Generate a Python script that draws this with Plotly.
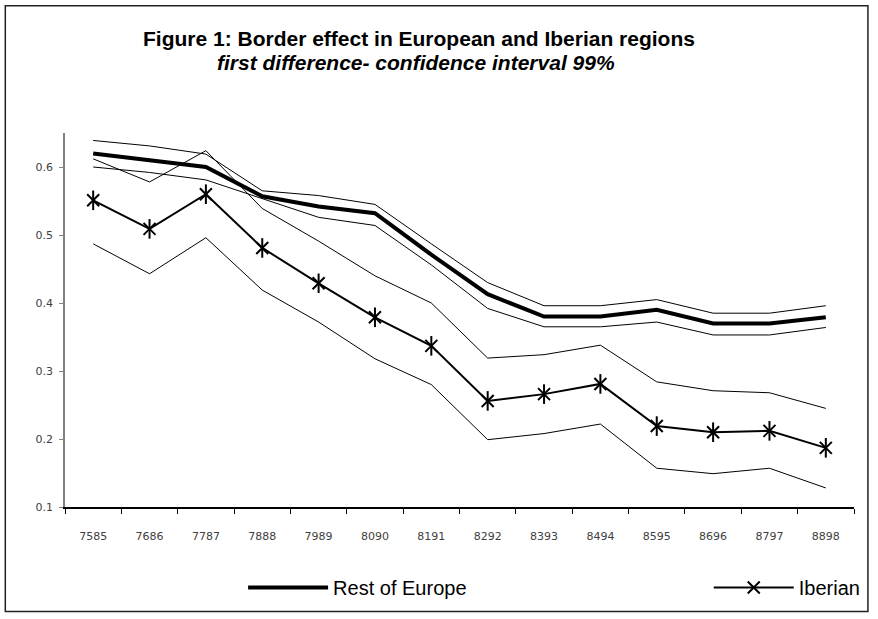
import plotly.graph_objects as go

years = ["7585", "7686", "7787", "7888", "7989", "8090", "8191",
         "8292", "8393", "8494", "8595", "8696", "8797", "8898"]

europe = [0.62, 0.61, 0.60, 0.557, 0.542, 0.532, 0.471, 0.413, 0.38, 0.38, 0.39, 0.37, 0.37, 0.379]
europe_hi = [0.639, 0.631, 0.619, 0.565, 0.558, 0.545, 0.487, 0.43, 0.396, 0.396, 0.405, 0.385, 0.385, 0.396]
europe_lo = [0.600, 0.592, 0.581, 0.553, 0.526, 0.514, 0.456, 0.392, 0.365, 0.365, 0.372, 0.353, 0.353, 0.364]

iberian = [0.551, 0.509, 0.560, 0.481, 0.429, 0.379, 0.337, 0.256, 0.266, 0.281, 0.219, 0.210, 0.212, 0.187]
iberian_hi = [0.612, 0.578, 0.624, 0.539, 0.491, 0.440, 0.400, 0.319, 0.324, 0.338, 0.284, 0.271, 0.268, 0.245]
iberian_lo = [0.487, 0.443, 0.496, 0.419, 0.372, 0.318, 0.280, 0.199, 0.208, 0.222, 0.157, 0.149, 0.157, 0.128]

yticks = [0.1, 0.2, 0.3, 0.4, 0.5, 0.6]

fig = go.Figure()

thin = dict(color="black", width=1)
for arr in (europe_hi, europe_lo, iberian_hi, iberian_lo):
    fig.add_trace(go.Scatter(x=years, y=arr, mode="lines", line=thin,
                             showlegend=False, hoverinfo="skip"))

fig.add_trace(go.Scatter(x=years, y=europe, mode="lines", name="Rest of Europe",
                         line=dict(color="black", width=4), legend="legend"))

fig.add_trace(go.Scatter(x=years, y=iberian, mode="lines+markers", name="Iberian",
                         line=dict(color="black", width=2),
                         marker=dict(symbol="x-thin-open", size=12, color="black",
                                     line=dict(color="black", width=2)),
                         legend="legend2"))
fig.add_trace(go.Scatter(x=years, y=iberian, mode="markers", showlegend=False,
                         marker=dict(symbol="line-ns-open", size=14, color="black",
                                     line=dict(color="black", width=2)),
                         hoverinfo="skip"))

L, R, T, B = 65, 20, 133, 110
W, H = 878, 619
pw, ph = W - L - R, H - T - B


def px(x):
    return (x - L) / pw


def py(y):
    return (H - B - y) / ph


tickfont = dict(family="DejaVu Sans", size=11, color="#404040")

fig.update_layout(
    width=W, height=H,
    margin=dict(l=L, r=R, t=T, b=B),
    paper_bgcolor="white", plot_bgcolor="white",
    font=dict(family="Liberation Sans, Arial", color="black"),
    xaxis=dict(type="category", range=[-0.5, 13.5], showgrid=False,
               showline=True, linecolor="black", linewidth=1.5,
               ticks="outside", tickson="boundaries", ticklen=5,
               tickcolor="black", tickfont=tickfont, ticklabelstandoff=18,
               zeroline=False),
    yaxis=dict(range=[0.1, 0.65], showgrid=False, showline=True,
               linecolor="#808080", linewidth=1.5, ticks="outside",
               ticklen=4, tickcolor="#808080", tickvals=yticks,
               ticktext=[str(v) for v in yticks], tickfont=tickfont,
               ticklabelstandoff=4, zeroline=False),
    legend=dict(x=px(244), y=py(590), xanchor="left", yanchor="middle",
                font=dict(size=20, family="Liberation Sans, Arial"),
                bgcolor="rgba(0,0,0,0)", itemwidth=80),
    legend2=dict(x=px(712), y=py(590), xanchor="left", yanchor="middle",
                 font=dict(size=20, family="Liberation Sans, Arial"),
                 bgcolor="rgba(0,0,0,0)", itemwidth=80),
    shapes=[dict(type="rect", xref="paper", yref="paper",
                 x0=px(5), x1=px(872), y0=py(614), y1=py(5),
                 line=dict(color="#222", width=1.5))],
    annotations=[
        dict(text="<b>Figure 1: Border effect in European and Iberian regions</b>",
             xref="paper", yref="paper", x=px(421), y=py(37.5),
             xanchor="center", yanchor="middle", showarrow=False,
             font=dict(size=21, family="Liberation Sans, Arial")),
        dict(text="<b><i>first difference- confidence interval 99%</i></b>",
             xref="paper", yref="paper", x=px(418), y=py(61.7),
             xanchor="center", yanchor="middle", showarrow=False,
             font=dict(size=21, family="Liberation Sans, Arial")),
    ],
)

fig.write_html("out.html")
